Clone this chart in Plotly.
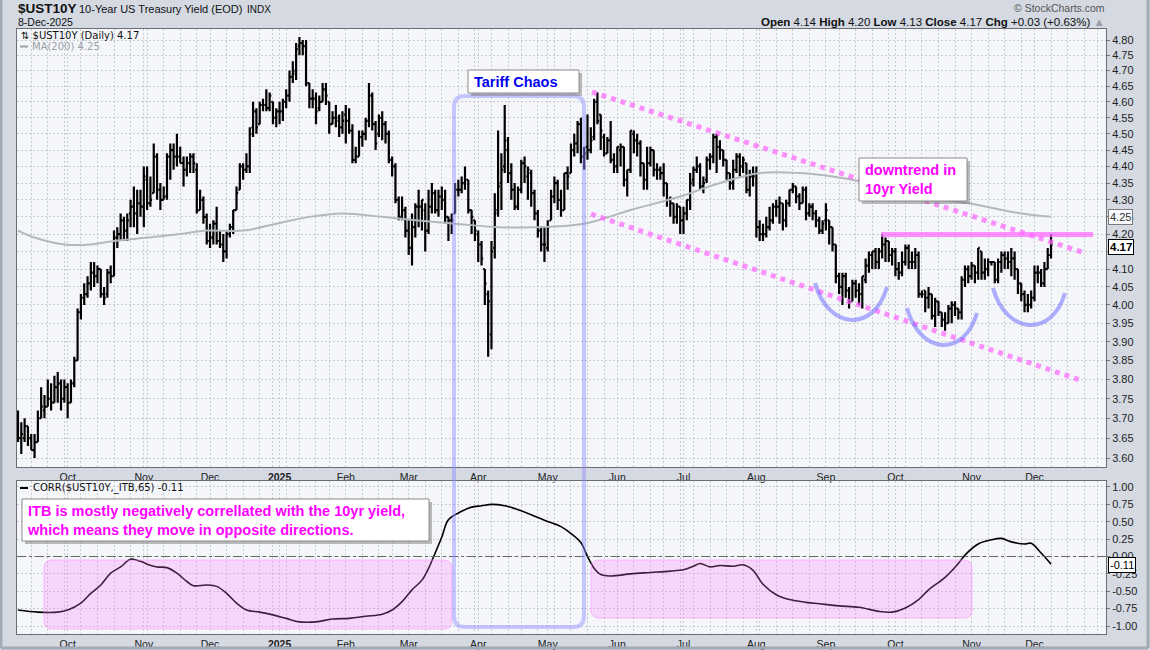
import math
import pandas as pd
import plotly.graph_objects as go

W, H = 1150, 650

# NYSE calendar of the bars (10-Sep-2024 .. 8-Dec-2025), extended to year end for the grid
closed = ['2024-11-28', '2024-12-25', '2025-01-01', '2025-01-09', '2025-01-20',
          '2025-02-17', '2025-04-18', '2025-05-26', '2025-06-19', '2025-07-04',
          '2025-09-01', '2025-11-27', '2025-12-25']
cal = pd.bdate_range('2024-09-10', '2025-12-31', freq='C', holidays=closed)

# daily OHLC of $UST10Y, one row per month
op = [3.70, 3.65, 3.65, 3.68, 3.65, 3.62, 3.64, 3.70, 3.72, 3.73, 3.75, 3.74, 3.78, 3.79, 3.75,
      3.78, 3.74, 3.79, 3.85, 3.98, 4.02, 4.03, 4.06, 4.09, 4.08, 4.10, 4.03, 4.03, 4.09, 4.08, 4.19, 4.20, 4.24, 4.21, 4.26, 4.28, 4.26, 4.29,
      4.28, 4.36, 4.29, 4.32, 4.43, 4.33, 4.30, 4.31, 4.43, 4.45, 4.43, 4.43, 4.41, 4.39, 4.41, 4.43, 4.39, 4.27, 4.30, 4.25,
      4.18, 4.19, 4.23, 4.18, 4.17, 4.15, 4.20, 4.22, 4.27, 4.33, 4.40, 4.39, 4.40, 4.52, 4.57, 4.53, 4.59, 4.59, 4.58, 4.60, 4.55,
      4.57, 4.57, 4.60, 4.62, 4.68, 4.70, 4.78, 4.79, 4.78, 4.66, 4.61, 4.61, 4.58, 4.60, 4.64, 4.60, 4.53, 4.55, 4.54, 4.52,
      4.56, 4.54, 4.51, 4.42, 4.43, 4.49, 4.50, 4.54, 4.62, 4.53, 4.50, 4.55, 4.53, 4.50, 4.42, 4.40, 4.30, 4.25, 4.27,
      4.21, 4.16, 4.22, 4.28, 4.28, 4.27, 4.21, 4.28, 4.32, 4.27, 4.31, 4.30, 4.25, 4.24, 4.26, 4.33, 4.33, 4.35, 4.36, 4.27, 4.24,
      4.20, 4.17, 4.10, 4.03, 3.92, 4.16, 4.27, 4.35, 4.40, 4.45, 4.38, 4.33, 4.28, 4.33, 4.41, 4.37, 4.38, 4.32, 4.26, 4.21, 4.17,
      4.16, 4.24, 4.31, 4.35, 4.30, 4.27, 4.38, 4.38, 4.45, 4.47, 4.53, 4.43, 4.46, 4.45, 4.49, 4.60, 4.56, 4.49, 4.44, 4.48, 4.42,
      4.40, 4.45, 4.46, 4.36, 4.39, 4.50, 4.48, 4.47, 4.41, 4.36, 4.41, 4.45, 4.39, 4.39, 4.38, 4.35, 4.30, 4.29, 4.25, 4.28,
      4.24, 4.26, 4.30, 4.36, 4.39, 4.40, 4.34, 4.36, 4.42, 4.43, 4.49, 4.46, 4.45, 4.42, 4.38, 4.35, 4.39, 4.43, 4.40, 4.41, 4.33, 4.37,
      4.38, 4.22, 4.20, 4.20, 4.22, 4.24, 4.28, 4.28, 4.29, 4.24, 4.29, 4.33, 4.34, 4.31, 4.29, 4.33, 4.26, 4.28, 4.26, 4.24, 4.21,
      4.24, 4.24, 4.22, 4.17, 4.08, 4.05, 4.08, 4.04, 4.01, 4.06, 4.04, 4.03, 4.07, 4.11, 4.14, 4.15, 4.12, 4.15, 4.17, 4.18, 4.14,
      4.15, 4.10, 4.09, 4.12, 4.16, 4.12, 4.12, 4.14, 4.03, 4.04, 4.02, 4.03, 3.97, 4.01, 3.98, 3.96, 3.95, 3.99, 4.00, 3.99, 3.98, 4.07, 4.10,
      4.08, 4.11, 4.09, 4.15, 4.09, 4.10, 4.12, 4.12, 4.07, 4.12, 4.14, 4.13, 4.12, 4.13, 4.10, 4.06, 4.03, 4.00, 4.00,
      4.02, 4.09, 4.09, 4.06, 4.10, 4.14]
hi = [3.72, 3.69, 3.70, 3.68, 3.66, 3.66, 3.72, 3.78, 3.76, 3.80, 3.79, 3.81, 3.82, 3.80, 3.80,
      3.79, 3.80, 3.86, 3.99, 4.03, 4.06, 4.08, 4.12, 4.12, 4.11, 4.10, 4.05, 4.10, 4.11, 4.21, 4.22, 4.26, 4.25, 4.26, 4.30, 4.34, 4.33, 4.33,
      4.40, 4.40, 4.37, 4.47, 4.44, 4.35, 4.34, 4.44, 4.47, 4.47, 4.50, 4.46, 4.43, 4.43, 4.44, 4.44, 4.41, 4.33, 4.31, 4.26,
      4.23, 4.24, 4.28, 4.21, 4.20, 4.21, 4.23, 4.27, 4.34, 4.41, 4.41, 4.44, 4.52, 4.60, 4.58, 4.60, 4.61, 4.64, 4.63, 4.60, 4.58,
      4.60, 4.61, 4.64, 4.70, 4.73, 4.79, 4.81, 4.80, 4.80, 4.66, 4.64, 4.63, 4.62, 4.66, 4.66, 4.60, 4.57, 4.59, 4.56, 4.57,
      4.59, 4.58, 4.53, 4.46, 4.51, 4.51, 4.55, 4.66, 4.63, 4.54, 4.56, 4.57, 4.54, 4.51, 4.43, 4.41, 4.31, 4.31, 4.28,
      4.24, 4.26, 4.29, 4.33, 4.30, 4.29, 4.33, 4.35, 4.33, 4.33, 4.34, 4.33, 4.25, 4.26, 4.35, 4.36, 4.37, 4.40, 4.36, 4.27, 4.24,
      4.21, 4.18, 4.10, 4.04, 4.18, 4.32, 4.51, 4.44, 4.59, 4.49, 4.41, 4.35, 4.34, 4.42, 4.43, 4.40, 4.39, 4.33, 4.27, 4.22, 4.22,
      4.24, 4.33, 4.37, 4.36, 4.33, 4.38, 4.40, 4.47, 4.50, 4.54, 4.55, 4.46, 4.56, 4.52, 4.61, 4.63, 4.56, 4.50, 4.49, 4.54, 4.44,
      4.46, 4.47, 4.46, 4.39, 4.51, 4.51, 4.50, 4.48, 4.41, 4.46, 4.46, 4.45, 4.41, 4.40, 4.41, 4.35, 4.31, 4.29, 4.29, 4.28,
      4.28, 4.30, 4.38, 4.40, 4.43, 4.41, 4.37, 4.43, 4.44, 4.50, 4.50, 4.48, 4.45, 4.42, 4.38, 4.42, 4.44, 4.44, 4.43, 4.41, 4.39, 4.40,
      4.40, 4.24, 4.23, 4.25, 4.28, 4.29, 4.30, 4.31, 4.29, 4.30, 4.33, 4.35, 4.34, 4.32, 4.34, 4.34, 4.29, 4.29, 4.27, 4.25, 4.24,
      4.29, 4.24, 4.22, 4.17, 4.09, 4.09, 4.09, 4.05, 4.07, 4.07, 4.06, 4.08, 4.13, 4.15, 4.15, 4.16, 4.16, 4.20, 4.19, 4.18, 4.16,
      4.16, 4.12, 4.15, 4.17, 4.17, 4.15, 4.16, 4.15, 4.04, 4.04, 4.05, 4.03, 4.02, 4.01, 3.98, 3.98, 4.00, 4.01, 4.01, 3.99, 4.08, 4.11, 4.11,
      4.12, 4.11, 4.16, 4.15, 4.13, 4.13, 4.12, 4.12, 4.13, 4.15, 4.15, 4.15, 4.16, 4.15, 4.10, 4.06, 4.04, 4.03, 4.04,
      4.11, 4.11, 4.10, 4.12, 4.16, 4.20]
lo = [3.64, 3.61, 3.64, 3.63, 3.62, 3.60, 3.64, 3.70, 3.70, 3.73, 3.72, 3.74, 3.74, 3.72, 3.74,
      3.70, 3.74, 3.78, 3.85, 3.96, 4.00, 4.02, 4.04, 4.05, 4.06, 4.02, 4.00, 4.02, 4.06, 4.08, 4.16, 4.18, 4.18, 4.18, 4.22, 4.22, 4.20, 4.25,
      4.22, 4.27, 4.28, 4.32, 4.30, 4.27, 4.30, 4.30, 4.36, 4.39, 4.40, 4.41, 4.34, 4.37, 4.38, 4.38, 4.26, 4.27, 4.23, 4.17,
      4.16, 4.17, 4.17, 4.16, 4.12, 4.13, 4.19, 4.20, 4.27, 4.33, 4.36, 4.38, 4.38, 4.49, 4.50, 4.53, 4.57, 4.57, 4.57, 4.53, 4.52,
      4.53, 4.54, 4.58, 4.60, 4.66, 4.67, 4.75, 4.75, 4.65, 4.58, 4.58, 4.53, 4.57, 4.60, 4.59, 4.50, 4.53, 4.52, 4.49, 4.50,
      4.47, 4.50, 4.41, 4.41, 4.43, 4.46, 4.48, 4.52, 4.51, 4.45, 4.49, 4.48, 4.47, 4.41, 4.37, 4.29, 4.24, 4.24, 4.19,
      4.14, 4.11, 4.19, 4.22, 4.21, 4.15, 4.20, 4.26, 4.26, 4.25, 4.27, 4.23, 4.18, 4.20, 4.26, 4.31, 4.32, 4.33, 4.26, 4.20, 4.18,
      4.12, 4.11, 4.00, 3.86, 3.88, 4.13, 4.25, 4.27, 4.38, 4.35, 4.30, 4.27, 4.27, 4.32, 4.35, 4.30, 4.28, 4.24, 4.19, 4.15, 4.12,
      4.15, 4.24, 4.29, 4.27, 4.25, 4.27, 4.33, 4.38, 4.43, 4.44, 4.41, 4.39, 4.42, 4.44, 4.48, 4.53, 4.45, 4.43, 4.44, 4.41, 4.38,
      4.38, 4.40, 4.34, 4.31, 4.38, 4.44, 4.43, 4.37, 4.33, 4.33, 4.40, 4.37, 4.36, 4.36, 4.31, 4.28, 4.25, 4.23, 4.23, 4.20,
      4.20, 4.24, 4.27, 4.34, 4.38, 4.33, 4.32, 4.35, 4.39, 4.41, 4.38, 4.42, 4.40, 4.36, 4.33, 4.33, 4.38, 4.37, 4.38, 4.32, 4.31, 4.34,
      4.19, 4.18, 4.18, 4.19, 4.21, 4.23, 4.25, 4.23, 4.21, 4.22, 4.28, 4.32, 4.29, 4.27, 4.29, 4.24, 4.25, 4.24, 4.22, 4.20, 4.20,
      4.21, 4.17, 4.15, 4.06, 4.03, 4.00, 4.02, 3.99, 4.01, 4.02, 4.00, 3.99, 4.06, 4.09, 4.10, 4.10, 4.10, 4.13, 4.12, 4.12, 4.11,
      4.08, 4.07, 4.08, 4.11, 4.10, 4.10, 4.10, 4.02, 4.02, 3.98, 3.99, 3.96, 3.94, 3.97, 3.94, 3.93, 3.95, 3.95, 3.97, 3.96, 3.96, 4.05, 4.06,
      4.07, 4.06, 4.07, 4.07, 4.07, 4.08, 4.11, 4.06, 4.06, 4.09, 4.10, 4.10, 4.08, 4.07, 4.03, 4.01, 3.98, 3.98, 3.99,
      4.01, 4.06, 4.05, 4.05, 4.10, 4.13]
cl = [3.65, 3.66, 3.68, 3.65, 3.62, 3.64, 3.70, 3.73, 3.73, 3.75, 3.74, 3.78, 3.79, 3.75, 3.78,
      3.74, 3.79, 3.85, 3.98, 4.02, 4.03, 4.06, 4.09, 4.08, 4.10, 4.03, 4.02, 4.09, 4.08, 4.19, 4.20, 4.24, 4.21, 4.24, 4.28, 4.26, 4.29, 4.28,
      4.37, 4.29, 4.30, 4.43, 4.33, 4.30, 4.31, 4.43, 4.45, 4.43, 4.43, 4.41, 4.39, 4.41, 4.43, 4.41, 4.27, 4.30, 4.25, 4.18,
      4.19, 4.23, 4.18, 4.17, 4.15, 4.20, 4.22, 4.27, 4.32, 4.40, 4.39, 4.40, 4.50, 4.57, 4.52, 4.59, 4.59, 4.58, 4.62, 4.55, 4.57,
      4.57, 4.60, 4.62, 4.68, 4.69, 4.77, 4.79, 4.78, 4.66, 4.61, 4.61, 4.57, 4.60, 4.64, 4.62, 4.53, 4.55, 4.55, 4.52, 4.54,
      4.54, 4.51, 4.42, 4.43, 4.49, 4.50, 4.54, 4.62, 4.53, 4.47, 4.55, 4.53, 4.50, 4.42, 4.40, 4.30, 4.25, 4.27, 4.21,
      4.16, 4.22, 4.28, 4.28, 4.30, 4.21, 4.28, 4.32, 4.27, 4.31, 4.30, 4.25, 4.24, 4.24, 4.33, 4.33, 4.35, 4.36, 4.27, 4.25, 4.21,
      4.17, 4.13, 4.06, 4.01, 4.15, 4.26, 4.34, 4.39, 4.48, 4.38, 4.33, 4.28, 4.33, 4.41, 4.40, 4.39, 4.32, 4.26, 4.21, 4.17, 4.17,
      4.22, 4.31, 4.35, 4.30, 4.27, 4.38, 4.37, 4.45, 4.47, 4.53, 4.43, 4.44, 4.45, 4.48, 4.60, 4.54, 4.51, 4.44, 4.48, 4.42, 4.40,
      4.46, 4.46, 4.36, 4.39, 4.51, 4.48, 4.47, 4.41, 4.36, 4.41, 4.45, 4.39, 4.39, 4.38, 4.35, 4.30, 4.29, 4.25, 4.28, 4.24,
      4.26, 4.30, 4.35, 4.39, 4.40, 4.34, 4.35, 4.42, 4.43, 4.49, 4.46, 4.45, 4.42, 4.38, 4.35, 4.39, 4.43, 4.40, 4.42, 4.33, 4.37, 4.37,
      4.22, 4.20, 4.20, 4.22, 4.24, 4.28, 4.28, 4.29, 4.24, 4.29, 4.33, 4.34, 4.31, 4.29, 4.33, 4.26, 4.28, 4.26, 4.24, 4.21, 4.23,
      4.27, 4.22, 4.17, 4.08, 4.05, 4.08, 4.04, 4.01, 4.06, 4.04, 4.03, 4.08, 4.11, 4.14, 4.15, 4.12, 4.15, 4.17, 4.18, 4.14, 4.15,
      4.10, 4.09, 4.12, 4.16, 4.12, 4.12, 4.14, 4.03, 4.03, 4.02, 4.03, 3.97, 4.01, 3.98, 3.96, 3.95, 3.99, 4.00, 3.99, 3.98, 4.07, 4.10, 4.08,
      4.11, 4.09, 4.16, 4.09, 4.10, 4.12, 4.12, 4.07, 4.12, 4.14, 4.13, 4.12, 4.13, 4.10, 4.06, 4.03, 4.00, 4.00, 4.02,
      4.09, 4.09, 4.06, 4.10, 4.14, 4.17]

# MA(200) read at a few bars
ma_idx = [0, 5, 14, 22, 29, 39, 49, 57, 68, 78, 88, 98, 110, 120, 132, 145, 156,
          171, 185, 200, 212, 224, 236, 246, 257, 272, 287, 303, 312]
ma_val = [4.21, 4.19, 4.17, 4.17, 4.18, 4.19, 4.20, 4.21, 4.21, 4.23, 4.25, 4.26, 4.25, 4.24, 4.23, 4.22, 4.22,
          4.23, 4.27, 4.31, 4.35, 4.38, 4.38, 4.37, 4.35, 4.31, 4.29, 4.26, 4.25]

# CORR($UST10Y,_ITB,65) read at a few bars
corr_idx = [0, 6, 12, 15, 19, 22, 25, 28, 31, 34, 37, 39, 42, 45, 48, 51, 53, 57, 60, 63, 66, 69, 73, 77,
            81, 85, 90, 95, 100, 105, 110, 113, 116, 119, 122, 124, 126, 128, 130, 134, 137, 140, 143,
            147, 150, 155, 159, 164, 167, 170, 172, 174, 176, 179, 185, 191, 197, 201, 204, 206, 209,
            212, 216, 219, 222, 225, 229, 233, 238, 242, 248, 254, 260, 264, 268, 272, 275, 280, 284,
            286, 290, 294, 297, 300, 304, 306, 309, 312]
corr_val = [-0.77, -0.80, -0.80, -0.77, -0.67, -0.53, -0.41, -0.24, -0.15, -0.04, -0.07, -0.11, -0.15, -0.16,
            -0.24, -0.36, -0.42, -0.41, -0.43, -0.53, -0.67, -0.77, -0.80, -0.84, -0.89, -0.94, -0.94, -0.90,
            -0.89, -0.86, -0.83, -0.77, -0.65, -0.48, -0.34, -0.17, 0.05, 0.28, 0.53, 0.65, 0.71, 0.73, 0.75,
            0.73, 0.69, 0.60, 0.52, 0.43, 0.33, 0.20, 0.00, -0.17, -0.26, -0.28, -0.25, -0.23, -0.21, -0.19,
            -0.14, -0.10, -0.15, -0.13, -0.14, -0.12, -0.20, -0.40, -0.55, -0.62, -0.66, -0.68, -0.71, -0.73,
            -0.79, -0.80, -0.74, -0.62, -0.48, -0.30, -0.10, 0.02, 0.18, 0.24, 0.26, 0.21, 0.18, 0.19, 0.05, -0.11]

month_text = ['Oct', 'Nov', 'Dec', '<b>2025</b>', 'Feb', 'Mar', 'Apr', 'May', 'Jun', 'Jul',
              'Aug', 'Sep', 'Oct', 'Nov', 'Dec']
yield_ticks = [3.60, 3.65, 3.70, 3.75, 3.80, 3.85, 3.90, 3.95, 4.00, 4.05, 4.10, 4.15, 4.20,
               4.25, 4.30, 4.35, 4.40, 4.45, 4.50, 4.55, 4.60, 4.65, 4.70, 4.75, 4.80]
corr_ticks = [-1.00, -0.75, -0.50, -0.25, 0.00, 0.25, 0.50, 0.75, 1.00]

n = len(cl)
assert len(op) == n and len(hi) == n and len(lo) == n == 313, (len(op), len(hi), len(lo), n)
assert len(ma_idx) == len(ma_val) and len(corr_idx) == len(corr_val)
idx = list(range(n))

pos = pd.Series(range(len(cal)), index=cal)
month_idx = list(pos.groupby([cal.year, cal.month]).min().values[1:])
week_idx = [int(v) for v in pos.groupby(cal.to_period('W-SUN')).min().values[1:]
            if v not in month_idx]


def px(x):
    return x / W


def py(y):
    return 1 - y / H


def rrect(x0, y0, x1, y1, r):
    pts = [('M', x0 + r, y0), ('L', x1 - r, y0), ('Q', x1, y0, x1, y0 + r), ('L', x1, y1 - r),
           ('Q', x1, y1, x1 - r, y1), ('L', x0 + r, y1), ('Q', x0, y1, x0, y1 - r),
           ('L', x0, y0 + r), ('Q', x0, y0, x0 + r, y0)]
    out = []
    for p in pts:
        c = p[0]
        xy = p[1:]
        out.append(c + ' ' + ' '.join(f'{px(xy[k]):.5f},{py(xy[k + 1]):.5f}' for k in range(0, len(xy), 2)))
    return ' '.join(out) + ' Z'


def cup(p0, c1, c2, p3):
    return (f'M {px(p0[0]):.5f},{py(p0[1]):.5f} C {px(c1[0]):.5f},{py(c1[1]):.5f} '
            f'{px(c2[0]):.5f},{py(c2[1]):.5f} {px(p3[0]):.5f},{py(p3[1]):.5f}')


grid = '#c9ccd3'
fig = go.Figure()

fig.add_trace(go.Scatter(x=ma_idx, y=ma_val, mode='lines', xaxis='x', yaxis='y',
                         line=dict(color='#b3b8bf', width=2, shape='spline'), hoverinfo='skip'))
fig.add_trace(go.Ohlc(x=idx, open=op, high=hi, low=lo, close=cl, xaxis='x', yaxis='y',
                      increasing_line_color='black', decreasing_line_color='black',
                      line=dict(width=2.2), tickwidth=0.5, hoverinfo='skip'))
fig.add_trace(go.Scatter(x=corr_idx, y=corr_val, mode='lines', xaxis='x2', yaxis='y2',
                         line=dict(color='black', width=1.6, shape='spline'), hoverinfo='skip'))

xcommon = dict(range=[-0.3, 328.6], tickmode='array', tickvals=month_idx, ticktext=month_text,
               showgrid=True, gridcolor=grid, griddash='2px,2px', gridwidth=1,
               minor=dict(tickvals=week_idx, showgrid=True, gridcolor=grid, griddash='2px,2px'),
               showline=True, mirror=True, linecolor='#6a6e75', linewidth=1, ticks='',
               zeroline=False, tickfont=dict(size=10.5, color='#222'), fixedrange=True,
               domain=[px(17), px(1106)])

fig.update_layout(
    width=W, height=H, margin=dict(l=0, r=0, t=0, b=0), showlegend=False,
    paper_bgcolor='#d4d9e2', plot_bgcolor='#f4f6fa',
    font=dict(family='Liberation Sans, Arial, sans-serif', size=11, color='#222'),
    xaxis=dict(anchor='y', rangeslider=dict(visible=False), **xcommon),
    xaxis2=dict(anchor='y2', matches='x', **xcommon),
    yaxis=dict(type='log', domain=[py(467), py(29)],
               range=[math.log10(3.578), math.log10(4.8365)],
               side='right', tickmode='array', tickvals=yield_ticks,
               ticktext=[f'{v:.2f}' for v in yield_ticks], showgrid=True, gridcolor=grid,
               griddash='2px,2px', showline=True, mirror=True, linecolor='#6a6e75',
               ticks='outside', ticklen=3, tickcolor='#777', zeroline=False,
               tickfont=dict(size=11, color='#222'), fixedrange=True),
    yaxis2=dict(domain=[py(634), py(481)], range=[-1.115, 1.086], side='right',
                tickmode='array', tickvals=corr_ticks, ticktext=[f'{v:.2f}' for v in corr_ticks],
                showgrid=True, gridcolor=grid, griddash='2px,2px', showline=True, mirror=True,
                linecolor='#6a6e75', ticks='outside', ticklen=3, tickcolor='#777',
                zeroline=False, tickfont=dict(size=11, color='#222'), fixedrange=True),
)

shapes = []
# pink zones in the correlation panel
for x0, y0, x1, y1 in [(44, 560, 452, 629), (591, 560, 972, 618)]:
    shapes.append(dict(type='path', path=rrect(x0, y0, x1, y1, 8), xref='paper', yref='paper',
                       fillcolor='rgba(255,120,255,0.25)', line=dict(color='rgba(255,140,255,0.55)', width=1),
                       layer='above'))
# zero line in the correlation panel
shapes.append(dict(type='line', xref='paper', yref='y2', x0=px(17), x1=px(1106), y0=0, y1=0,
                   line=dict(color='#666', width=1, dash='dashdot')))
# tariff window
shapes.append(dict(type='path', path=rrect(454, 96, 584, 627, 11), xref='paper', yref='paper',
                   line=dict(color='rgba(140,140,255,0.45)', width=4), layer='above'))
# channel lines
shapes.append(dict(type='line', xref='paper', yref='paper', x0=px(592), y0=py(92), x1=px(1085), y1=py(253),
                   line=dict(color='rgba(255,100,255,0.7)', width=5, dash='dot'), layer='above'))
shapes.append(dict(type='line', xref='paper', yref='paper', x0=px(591), y0=py(214), x1=px(1080), y1=py(380),
                   line=dict(color='rgba(255,100,255,0.7)', width=5, dash='dot'), layer='above'))
# resistance at 4.20
shapes.append(dict(type='line', xref='paper', yref='paper', x0=px(881), y0=py(234.5), x1=px(1093), y1=py(234.5),
                   line=dict(color='rgba(255,110,255,0.75)', width=5), layer='above'))
# cups
for p0, c1, c2, p3 in [((815, 283), (828, 330), (874, 333), (887, 287)),
                       ((907, 308), (920, 355), (964, 358), (977, 313)),
                       ((993, 288), (1006, 335), (1052, 338), (1065, 293))]:
    shapes.append(dict(type='path', path=cup(p0, c1, c2, p3), xref='paper', yref='paper',
                       line=dict(color='rgba(100,100,255,0.5)', width=4), layer='above'))
# note boxes with shadows
for x0, y0, x1, y1 in [(468, 70, 579, 93), (859, 158, 967, 201), (22, 499, 429, 541)]:
    shapes.append(dict(type='rect', xref='paper', yref='paper', x0=px(x0 + 3), y0=py(y0 + 3),
                       x1=px(x1 + 3), y1=py(y1 + 3), fillcolor='rgba(110,110,110,0.45)',
                       line=dict(width=0), layer='above'))
    shapes.append(dict(type='rect', xref='paper', yref='paper', x0=px(x0), y0=py(y0), x1=px(x1), y1=py(y1),
                       fillcolor='white', line=dict(color='#8c8c8c', width=1), layer='above'))
# legend swatches
shapes.append(dict(type='line', xref='paper', yref='paper', x0=px(20), x1=px(28), y0=py(46.5), y1=py(46.5),
                   line=dict(color='#9aa0a8', width=2)))
shapes.append(dict(type='line', xref='paper', yref='paper', x0=px(20), x1=px(28), y0=py(488), y1=py(488),
                   line=dict(color='black', width=2)))
# outer frame
for x0, y0, x1, y1 in [(1, 0, 1, 648), (1148, 0, 1148, 648), (1, 648, 1148, 648)]:
    shapes.append(dict(type='line', xref='paper', yref='paper', x0=px(x0), y0=py(y0), x1=px(x1), y1=py(y1),
                       line=dict(color='#a4aab4', width=3)))
fig.update_layout(shapes=shapes)


def note(x, y, text, size=11, color='#222', anchor='left', family=None, **kw):
    f = dict(size=size, color=color)
    if family:
        f['family'] = family
    fig.add_annotation(x=px(x), y=py(y), xref='paper', yref='paper', text=text, showarrow=False,
                       xanchor=anchor, yanchor='middle', align='left', font=f, **kw)


note(16, 9, '<b>$UST10Y</b>', size=13.5, color='#111')
note(77, 9.5, '10-Year US Treasury Yield (EOD)', size=11, color='#111')
note(245, 9.5, 'INDX', size=10, color='#111')
note(16, 22.5, '8-Dec-2025', size=10.5, color='#111')
note(1107, 8, '© StockCharts.com', size=10.5, color='#555', anchor='right')
note(1107, 22, '<b>Open</b> 4.14 <b>High</b> 4.20 <b>Low</b> 4.13 <b>Close</b> 4.17 '
     '<b>Chg</b> +0.03 (+0.63%) <span style="color:#9aa0aa">▲</span>', size=11.5, color='#111', anchor='right')
note(19, 35, '⇅ $UST10Y (Daily) 4.17', size=10, color='#111', family='DejaVu Sans')
note(30, 46.5, 'MA(200) 4.25', size=10, color='#9aa0a8', family='DejaVu Sans')
note(31, 488, 'CORR($UST10Y,_ITB,65) -0.11', size=10, color='#111', family='DejaVu Sans')

note(472, 81.5, '<b>Tariff Chaos</b>', size=14.5, color='#0000f0')
note(863, 179.5, '<b>downtrend in<br>10yr Yield</b>', size=14.5, color='#ff00ff')
note(25, 520, '<b>ITB is mostly negatively correllated with the 10yr yield,<br>'
     'which means they move in opposite directions.</b>', size=14.5, color='#ff00ff')

# last-value tags on the right scale
note(1108, 217, '4.25', size=11, color='#333', bgcolor='#f7f8fb', bordercolor='#7a7a7a', borderwidth=1, borderpad=1)
note(1108, 246.5, '<b>4.17</b>', size=11.5, color='#000', bgcolor='white', bordercolor='#000', borderwidth=1, borderpad=1)
note(1108, 565, '-0.11', size=11, color='#000', bgcolor='white', bordercolor='#000', borderwidth=1, borderpad=1)

fig.write_html('out.html', config={'displayModeBar': False},
               post_script="document.body.style.margin='0';")
